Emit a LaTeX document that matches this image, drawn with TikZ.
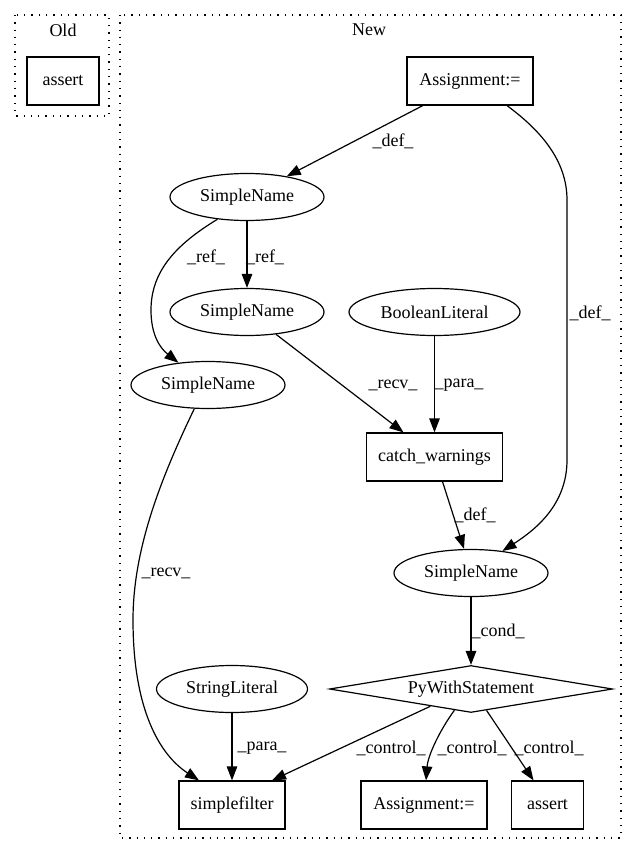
\documentclass[tikz,border=0pt]{standalone}
\usepackage{fontspec}
\setmainfont{Liberation Serif}
\usetikzlibrary{shapes.geometric,arrows.meta}
\begin{document}
\begin{tikzpicture}[x=1pt,y=-1pt,
  every node/.style={font=\fontsize{18}{21}\selectfont, inner sep=0pt},
  box/.style={draw, line width=1.2pt, rectangle, minimum height=48pt},
  ell/.style={draw, line width=1.2pt, ellipse, minimum height=47pt},
  dia/.style={draw, line width=1.2pt, diamond, shape aspect=6, minimum width=283pt, minimum height=47pt},
  conn/.style={draw, line width=1.2pt, -{Triangle[length=14pt,width=10.5pt]}},
  clus/.style={draw, line width=1.3pt, dash pattern=on 1.3pt off 6pt}
]
\useasboundingbox (0,0) rectangle (635,856);
% clusters
\draw[clus] (15,15) rectangle (109,116);
\draw[clus] (120,15) rectangle (621,838);
\node (toold) at (63,30) {Old};
\node (tnew) at (369,30) {New};
% nodes
\node[box, minimum width=72pt] (as1) at (63,81) {assert};
\node[box, minimum width=126pt] (a1) at (470,81) {Assignment:=};
\node[ell, minimum width=154pt] (sn1) at (247,197) {SimpleName};
\node[ell, minimum width=154pt] (sn2) at (247,312) {SimpleName};
\node[ell, minimum width=171pt] (bl) at (434.5,312) {BooleanLiteral};
\node[ell, minimum width=154pt] (sn3) at (208,385) {SimpleName};
\node[box, minimum width=136pt] (cw) at (434.5,457) {catch\_warnings};
\node[ell, minimum width=154pt] (sn4) at (471,573) {SimpleName};
\node[dia] (py) at (471,689) {PyWithStatement};
\node[ell, minimum width=151pt] (sl) at (232,689) {StringLiteral};
\node[box, minimum width=106pt] (sf) at (232,805) {simplefilter};
\node[box, minimum width=126pt] (a2) at (424,805) {Assignment:=};
\node[box, minimum width=72pt] (as2) at (547.5,805) {assert};
% edges
\draw[conn] (a1) -- (sn1);
\draw[conn] ([xshift=37pt]a1.south) .. controls (540,130) and (567,160) .. (567,200)
   -- (567,460) .. controls (567,505) and (535,530) .. (sn4.35);
\draw[conn] (sn1) -- (sn2);
\draw[conn] (sn1.217) .. controls (175,245) and (151,272) .. (151,310)
   .. controls (151,335) and (160,348) .. (sn3.143);
\draw[conn] (sn2) -- ([xshift=-31pt]cw.north);
\draw[conn] (bl) -- (cw);
\draw[conn] ([xshift=8pt]cw.south) -- ([xshift=-7pt]sn4.north);
\draw[conn] (sn4) -- (py);
\draw[conn] (sn3.240) .. controls (160,480) and (133,550) .. (133,620)
   .. controls (133,710) and (160,755) .. ([xshift=-33pt]sf.north);
\draw[conn] (sl) -- (sf);
\draw[conn] (py.203) -- ([xshift=40pt]sf.north);
\draw[conn] (py.232) .. controls (440,730) and (428,755) .. ([xshift=2pt]a2.north);
\draw[conn] (py.306) -- ([xshift=-14pt]as2.north);
% edge labels
\node (l1) at (393,141) {\_def\_};
\node (l2) at (206,257) {\_ref\_};
\node (l3) at (265,257) {\_ref\_};
\node (l4) at (590,313) {\_def\_};
\node (l5) at (393,385) {\_recv\_};
\node (l6) at (459,385) {\_para\_};
\node (l7) at (475,515) {\_def\_};
\node (l8) at (166,573) {\_recv\_};
\node (l9) at (498,631) {\_cond\_};
\node (l10) at (262,748) {\_para\_};
\node (l11) at (391,748) {\_control\_};
\node (l12) at (472,748) {\_control\_};
\node (l13) at (549,748) {\_control\_};
\end{tikzpicture}
\end{document}
